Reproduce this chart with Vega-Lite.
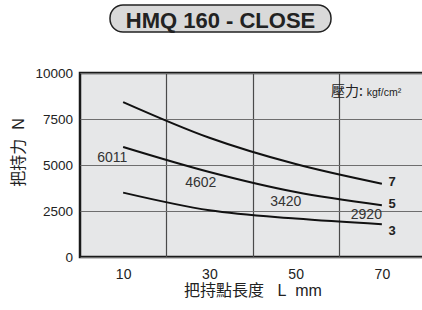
{
  "$schema": "https://vega.github.io/schema/vega-lite/v6.json",
  "padding": {"left": 9, "top": 4, "right": 0, "bottom": 0},
  "background": "white",
  "config": {"font": "Liberation Sans, Noto Sans CJK TC"},
  "spacing": 31,
  "datasets": {
    "head": [{"t": "HMQ 160 - CLOSE"}],
    "curves": [
      {"p": "7", "L": 10, "F": 8420}, {"p": "7", "L": 30, "F": 6480}, {"p": "7", "L": 50, "F": 5050}, {"p": "7", "L": 70, "F": 3980},
      {"p": "5", "L": 10, "F": 5980}, {"p": "5", "L": 30, "F": 4620}, {"p": "5", "L": 50, "F": 3530}, {"p": "5", "L": 70, "F": 2810},
      {"p": "3", "L": 10, "F": 3500}, {"p": "3", "L": 30, "F": 2540}, {"p": "3", "L": 50, "F": 2090}, {"p": "3", "L": 70, "F": 1780}
    ],
    "values": [
      {"label": "6011", "L": 7.5, "F": 5400},
      {"label": "4602", "L": 28.0, "F": 4020},
      {"label": "3420", "L": 47.7, "F": 2990},
      {"label": "2920", "L": 66.4, "F": 2270}
    ],
    "ends": [
      {"label": "7", "L": 72.4, "F": 4060},
      {"label": "5", "L": 72.4, "F": 2900},
      {"label": "3", "L": 72.4, "F": 1410}
    ],
    "unitA": [{"label": "壓力:", "L": 58.2, "F": 8970}],
    "unitB": [{"label": "kgf/cm²", "L": 66.5, "F": 8970}]
  },
  "vconcat": [
    {
      "spacing": 0,
      "hconcat": [
        {
          "width": 29,
          "height": 27,
          "view": {"stroke": null, "fill": null},
          "data": {"values": [{"t": ""}]},
          "mark": {"type": "text"},
          "encoding": {"text": {"field": "t"}}
        },
        {
          "width": 221,
          "height": 27,
          "view": {"fill": "#d9d9d9", "stroke": "#222222", "strokeWidth": 1.5, "cornerRadius": 13},
          "data": {"name": "head"},
          "mark": {"type": "text", "font": "Liberation Sans", "fontWeight": "bold", "fontSize": 22, "color": "#222222", "align": "center", "baseline": "middle", "dy": 2},
          "encoding": {"text": {"field": "t"}}
        }
      ]
    },
    {
      "width": 345,
      "height": 184,
      "view": {"fill": "#e6e7e8", "stroke": "#1a1a1a", "strokeWidth": 2.5},
      "layer": [
        {
          "data": {"name": "curves"},
          "mark": {"type": "line", "interpolate": "monotone", "strokeWidth": 2, "color": "#111111"},
          "encoding": {
            "x": {"field": "L", "type": "quantitative", "scale": {"domain": [0, 80], "nice": false},
              "axis": {"values": [10, 20, 30, 40, 50, 60, 70], "ticks": false, "domain": false,
                "labelExpr": "datum.value % 20 == 0 ? '' : datum.label",
                "labelFontSize": 14, "labelColor": "#222222", "labelPadding": 10,
                "gridColor": "#4a4a4a", "gridWidth": 1.2,
                "gridOpacity": {"condition": {"test": "datum.value % 20 == 0", "value": 1}, "value": 0},
                "title": "把持點長度\u00a0\u00a0\u00a0L\u00a0\u00a0mm", "titleFontSize": 16, "titleFontWeight": "normal", "titleColor": "#222222", "titlePadding": 1}},
            "y": {"field": "F", "type": "quantitative", "scale": {"domain": [0, 10000], "nice": false},
              "axis": {"values": [0, 2500, 5000, 7500, 10000], "format": "d", "ticks": false, "domain": false,
                "labelFontSize": 13.5, "labelColor": "#222222", "labelPadding": 7.5,
                "gridColor": "#6e6e6e", "gridWidth": 1.2,
                "title": "把持力\u00a0\u00a0N", "titleFontSize": 16, "titleFontWeight": "normal", "titleColor": "#222222", "titlePadding": 8, "titleY": 79}},
            "detail": {"field": "p"}
          }
        },
        {
          "data": {"name": "values"},
          "mark": {"type": "text", "fontSize": 14, "color": "#333333", "align": "center", "baseline": "middle"},
          "encoding": {
            "x": {"field": "L", "type": "quantitative"},
            "y": {"field": "F", "type": "quantitative"},
            "text": {"field": "label"}
          }
        },
        {
          "data": {"name": "ends"},
          "mark": {"type": "text", "fontSize": 13, "fontWeight": "bold", "color": "#222222", "align": "center", "baseline": "middle"},
          "encoding": {
            "x": {"field": "L", "type": "quantitative"},
            "y": {"field": "F", "type": "quantitative"},
            "text": {"field": "label"}
          }
        },
        {
          "data": {"name": "unitA"},
          "mark": {"type": "text", "fontSize": 14, "color": "#222222", "align": "left", "baseline": "middle", "font": "Noto Sans CJK TC"},
          "encoding": {
            "x": {"field": "L", "type": "quantitative"},
            "y": {"field": "F", "type": "quantitative"},
            "text": {"field": "label"}
          }
        },
        {
          "data": {"name": "unitB"},
          "mark": {"type": "text", "fontSize": 10.5, "color": "#222222", "align": "left", "baseline": "middle", "dy": 1},
          "encoding": {
            "x": {"field": "L", "type": "quantitative"},
            "y": {"field": "F", "type": "quantitative"},
            "text": {"field": "label"}
          }
        }
      ]
    }
  ]
}
